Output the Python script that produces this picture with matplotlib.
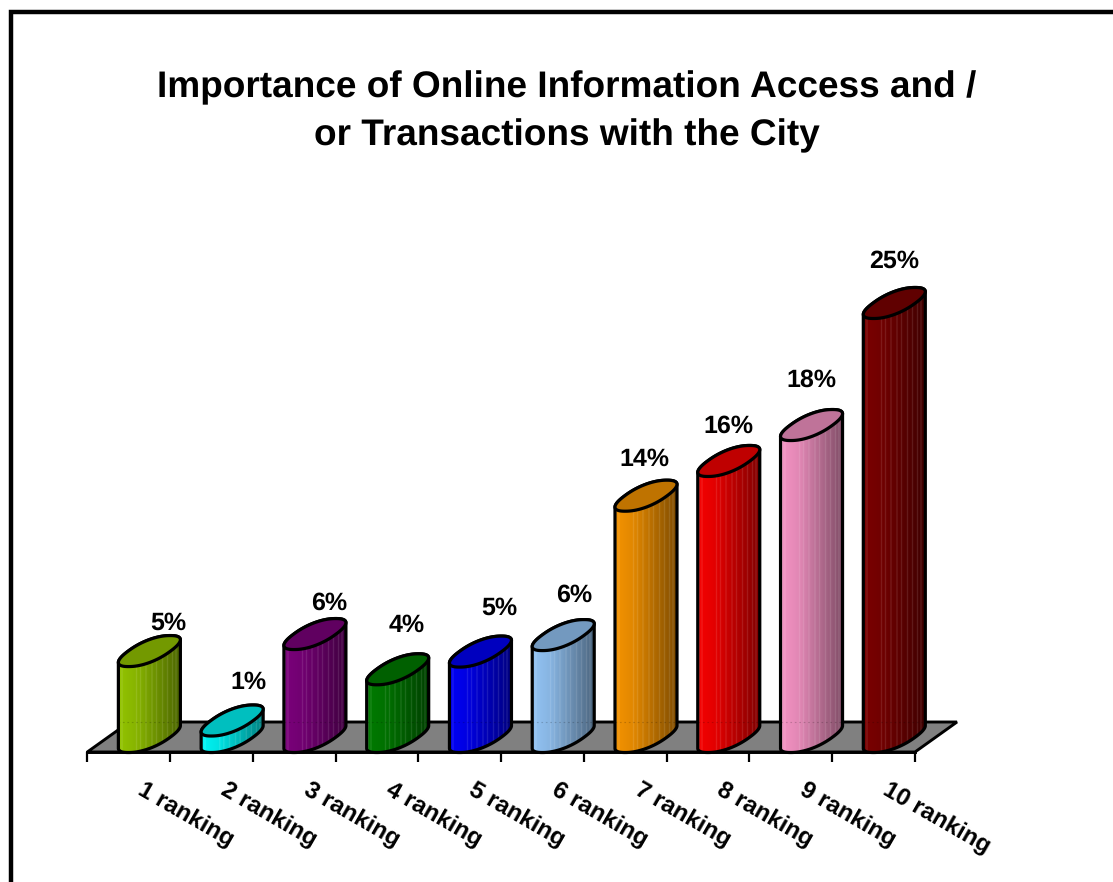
import numpy as np
import matplotlib
matplotlib.use("Agg")
import matplotlib.pyplot as plt
from matplotlib.colors import to_rgb
from matplotlib.patches import Polygon, Rectangle

categories = ["1 ranking", "2 ranking", "3 ranking", "4 ranking", "5 ranking",
              "6 ranking", "7 ranking", "8 ranking", "9 ranking", "10 ranking"]
values = [4.95, 0.95, 5.93, 3.9, 4.92, 5.87, 13.9, 15.9, 17.97, 25.0]
value_labels = ["5%", "1%", "6%", "4%", "5%", "6%", "14%", "16%", "18%", "25%"]
bar_colors = ["#99CC00", "#00FFFF", "#800080", "#008000", "#0000FF",
              "#99CCFF", "#FF9900", "#FF0000", "#FF99CC", "#800000"]
title = "Importance of Online Information Access and /\nor Transactions with the City"

# label nudges (pixels, relative to the centre of each bar top), placed by hand in the original
label_dx = [19, 16, 14, 9, 19, 11, -2, 0, 0, 0]
label_dy = [28, 38, 31, 44, 43, 40, 36, 35, 45, 42]

W, H = 1113, 882
X0, X1 = 87.3, 915.0     # pixel span of the category axis
Y_FRONT = 752.0          # pixel row of the axis line
Y_ZERO = 737.0           # pixel row of value 0 (floor mid-line)
PX_PER_UNIT = 17.36
Y_TOP = 30.0
PX_PER_CAT = (X1 - X0) / 10

plt.rcParams["font.family"] = ["Liberation Sans", "DejaVu Sans"]
plt.rcParams["font.weight"] = "bold"
plt.rcParams["text.hinting"] = "no_hinting"
plt.rcParams["text.hinting_factor"] = 1

fig = plt.figure(figsize=(W / 100, H / 100), dpi=100, facecolor="white")
y_low = -(Y_FRONT - Y_ZERO) / PX_PER_UNIT
top_px = Y_ZERO - Y_TOP * PX_PER_UNIT
ax = fig.add_axes([X0 / W, 1 - Y_FRONT / H, (X1 - X0) / W, (Y_FRONT - top_px) / H])
ax.set_facecolor("none")
ax.set_xlim(0, 10)
ax.set_ylim(y_low, Y_TOP)

for s in ("top", "left", "right"):
    ax.spines[s].set_visible(False)
ax.spines["bottom"].set_linewidth(2.1)
ax.set_yticks([])
ax.set_xticks(np.arange(11))
ax.set_xticklabels([])
ax.tick_params(axis="x", which="major", length=7.2, width=1.6, color="black")
ax.set_xticks(np.arange(10) + 0.7, categories, minor=True)
ax.tick_params(axis="x", which="minor", length=0, pad=19, labelsize=17.3)
for lab in ax.get_xticklabels(minor=True):
    lab.set(rotation=-30, ha="left", va="top", rotation_mode="anchor", fontweight="bold")

# floor
dx_floor = 42 / PX_PER_CAT
floor = Polygon([(0, y_low), (10, y_low), (10 + dx_floor, -y_low), (dx_floor, -y_low)],
                closed=True, facecolor="#808080", edgecolor="black", lw=2.1,
                clip_on=False, zorder=1, joinstyle="miter")
ax.add_patch(floor)

# cylinder geometry: a slightly squared-off oblique circle, as the original's bezier caps look
half = 31 / PX_PER_CAT
vy = 15.5 / PX_PER_UNIT
ux = 22 / PX_PER_CAT
vx = 21.7 / PX_PER_CAT
EXP = 0.88
T = np.linspace(0, 2 * np.pi, 721)[:-1]
_c, _s = np.cos(T), np.sin(T)
_cp = np.sign(_c) * np.abs(_c) ** EXP
_sp = np.sign(_s) * np.abs(_s) ** EXP
unit_x = ux * _cp + vx * _sp
unit_y = vy * _sp
unit_x *= half / unit_x.max()
unit_y *= vy / unit_y.max()
i_right = int(np.argmax(unit_x))
i_left = int(np.argmin(unit_x))

def ring(cx, cy):
    return np.column_stack([cx + unit_x, cy + unit_y])

def lower_arc():
    """indices from the leftmost to the rightmost point, passing under the ellipse"""
    return np.arange(i_left, i_left + ((i_right - i_left) % len(T)) + 1) % len(T)

def upper_arc():
    return np.arange(i_right, i_right + ((i_left - i_right) % len(T)) + 1) % len(T)

def shade(color, n=124):
    base = np.array(to_rgb(color))
    s = np.linspace(0, 1, n)
    f = np.interp(s, [0, 0.3, 1], [0.96, 0.88, 0.50])
    img = np.clip(base[None, :] * f[:, None], 0, 1)
    mix = np.zeros(n)
    for c in [0.06, 0.30, 0.36, 0.45, 0.55, 0.62, 0.72, 0.80, 0.88, 0.94]:
        mix[int(c * (n - 1))] = 0.14
        mix[int(c * (n - 1)) + 1] = 0.14
    mix[:4] = 0.18
    img = img + (1 - img) * mix[:, None]
    return img[None, :, :]

for i, (val, col) in enumerate(zip(values, bar_colors)):
    cx = i + 0.75
    outline = np.vstack([ring(cx, 0)[lower_arc()], ring(cx, val)[upper_arc()]])
    img = ax.imshow(shade(col), extent=[cx - half, cx + half, -vy, val + vy],
                    aspect="auto", zorder=3, interpolation="bilinear")
    img.set_clip_box(fig.bbox)
    img.set_clip_path(Polygon(outline, closed=True, transform=ax.transData))
    ax.add_patch(Polygon(outline, closed=True, facecolor="none", edgecolor="black", lw=2.3,
                         clip_on=False, zorder=4, joinstyle="round"))
    if val > -y_low:
        # faint trace of the floor's back edge showing through the bar
        ax.plot([cx - half, cx + half], [-y_low, -y_low], color="black", lw=0.8, alpha=0.18,
                ls=(0, (1.5, 2.5)), zorder=3.5, clip_on=False)
    cap = np.array(to_rgb(col)) * 0.75
    ax.add_patch(Polygon(ring(cx, val), closed=True, facecolor=cap, edgecolor="black",
                         lw=2.3, clip_on=False, zorder=5))
    ax.annotate(value_labels[i], xy=(cx, val), xytext=(label_dx[i], label_dy[i]),
                textcoords="offset pixels", ha="center", va="center", fontsize=17.8,
                fontweight="bold", color="black", annotation_clip=False, zorder=6)

ax.set_xlim(0, 10)
ax.set_ylim(y_low, Y_TOP)

fig.suptitle(title, x=566.5 / W, y=1 - 111.5 / H, ha="center", va="center",
             fontsize=26.6, fontweight="bold", linespacing=1.5)

# chart frame, running off the right and lower edges
fig.add_artist(Rectangle((10.5 / W, -0.05), 1.2, 1 - 12 / H + 0.05, transform=fig.transFigure,
                         facecolor="none", edgecolor="black", lw=3.2, zorder=10))

fig.savefig("out.png", dpi=100)
